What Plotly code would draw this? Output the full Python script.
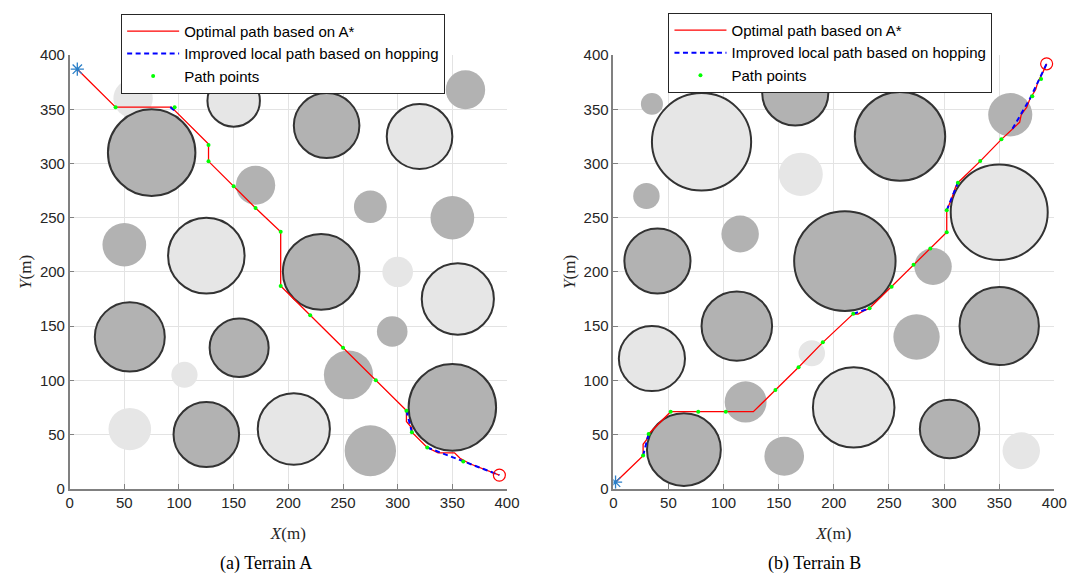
import plotly.graph_objects as go

# ---------------- Terrain A ----------------
# obstacle circles: centre x, centre y, radius, fill shade, outlined edge
a_cx = [58, 362, 170, 275, 350, 50, 300, 105, 295, 255, 55, 275,
        75, 150, 235, 320, 125, 230, 355, 55, 155, 125, 205, 350]
a_cy = [360, 368, 280, 260, 250, 225, 200, 105, 145, 105, 55, 35,
        310, 358, 335, 325, 215, 200, 175, 140, 130, 50, 55, 75]
a_r = [18, 18, 18, 15, 20, 20, 14, 12, 14, 22.5, 19.5, 23.5,
       40, 24, 30, 30, 35, 35, 33, 32, 27, 30, 33, 40]
a_shade = ["light", "dark", "dark", "dark", "dark", "dark", "light", "light", "dark", "dark", "light", "dark",
           "dark", "light", "dark", "light", "light", "dark", "light", "dark", "dark", "dark", "light", "dark"]
a_edge = [False] * 12 + [True] * 12

# A* optimal path
a_path_x = [7, 42, 93, 97, 127, 127, 150, 170, 193, 193, 220, 250, 280, 308, 308, 313, 313,
            327, 337, 352, 357, 361, 366, 393]
a_path_y = [387, 352, 352, 348, 318, 302, 279, 259, 237, 187, 160, 130, 100, 72, 62, 56, 52,
            38, 33, 33, 28, 26, 23, 12.5]
# improved local path (hopping)
a_hop_x = [92, 97, None, 308, 313, None, 327, 360, 393]
a_hop_y = [352, 348, None, 72, 52, None, 38, 25, 12.5]
# path points
a_pts_x = [42, 96, 127, 127, 150, 170, 193, 193, 220, 250, 280, 308, 313, 327, 360]
a_pts_y = [352, 352, 317, 302, 279, 259, 237, 187, 160, 130, 100, 72, 52, 38, 25]

# ---------------- Terrain B ----------------
b_cx = [35, 310, 360, 30, 170, 115, 290, 275, 180, 120, 155, 370,
        80, 165, 260, 40, 210, 350, 112, 350, 35, 218, 305, 64]
b_cy = [355, 382, 345, 270, 290, 235, 205, 140, 125, 80, 30, 35,
        320, 365, 325, 210, 210, 255, 150, 150, 120, 75, 55, 36]
b_r = [10, 17, 20, 12, 20, 17, 17, 21, 12, 19, 18, 17,
       45, 30, 41, 30, 46, 44, 32, 36, 30, 37, 27, 33.5]
b_shade = ["dark", "light", "dark", "dark", "light", "dark", "dark", "dark", "light", "dark", "dark", "light",
           "light", "dark", "dark", "dark", "dark", "light", "dark", "dark", "light", "light", "dark", "dark"]
b_edge = [False] * 12 + [True] * 12

b_path_x = [2, 27, 27, 30, 32, 52, 77, 102, 127, 147, 168, 190, 217.6, 222, 227, 232.4, 252.4,
            272.3, 287.5, 302.4, 302.4, 304, 307, 310.4, 312.5, 332.8, 352, 368.5, 370, 375,
            378, 383, 385, 390, 393]
b_path_y = [6, 30.5, 41, 45, 50.5, 71, 71, 71, 71, 91, 112, 135, 161.3, 161, 164, 166.4, 186.4,
            206.7, 221.6, 236.6, 256.9, 260.5, 268, 278.4, 282.3, 302.2, 322.3, 338, 345, 352,
            360, 368, 375, 385, 392]
b_hop_x = [27, 32, None, 217.6, 232.4, None, 302.4, 312.5, None, 362, 378, 393]
b_hop_y = [30.5, 50.5, None, 161.3, 166.4, None, 256.9, 282.3, None, 332, 360, 392]
b_pts_x = [27, 32, 52, 77, 102, 147, 168, 190, 217.6, 232.4, 252.4, 272.3, 287.5, 302.4,
           302.4, 312.5, 332.8, 352, 380, 388]
b_pts_y = [30.5, 50.5, 71, 71, 71, 91, 112, 135, 161.3, 166.4, 186.4, 206.7, 221.6, 236.6,
           256.9, 282.3, 302.2, 322.3, 362, 378]

start_a, goal_a = (7, 387), (393, 12.5)
start_b, goal_b = (2, 6), (393, 392)

LEGEND_NAMES = ["Optimal path based on A*", "Improved local path based on hopping", "Path points"]
SHADES = {"dark": "#b2b2b2", "light": "#e6e6e6"}
EDGE = "#333333"

fig = go.Figure()
shapes = []


def add_terrain(cx, cy, r, shade, edge, xa, ya):
    for x, y, rad, s, e in zip(cx, cy, r, shade, edge):
        shapes.append(dict(
            type="circle", xref=xa, yref=ya,
            x0=x - rad, x1=x + rad, y0=y - rad, y1=y + rad,
            fillcolor=SHADES[s],
            line=dict(color=EDGE if e else SHADES[s], width=2 if e else 0),
            layer="between"))


def add_paths(px, py, hx, hy, gx, gy, start, goal, xa, ya, legend):
    fig.add_trace(go.Scatter(x=px, y=py, mode="lines", name=LEGEND_NAMES[0],
                             line=dict(color="#ff0000", width=1.3),
                             xaxis=xa, yaxis=ya, legend=legend))
    fig.add_trace(go.Scatter(x=hx, y=hy, mode="lines", name=LEGEND_NAMES[1],
                             line=dict(color="#0000ff", width=2, dash="5px,3.5px"),
                             connectgaps=False, xaxis=xa, yaxis=ya, legend=legend))
    fig.add_trace(go.Scatter(x=gx, y=gy, mode="markers", name=LEGEND_NAMES[2],
                             marker=dict(color="#00ff00", size=4),
                             xaxis=xa, yaxis=ya, legend=legend))
    fig.add_trace(go.Scatter(x=[start[0]], y=[start[1]], mode="markers", showlegend=False,
                             marker=dict(symbol="asterisk-open", size=11, color="#2a7fc8",
                                         line=dict(color="#2a7fc8", width=1.3)),
                             xaxis=xa, yaxis=ya))
    fig.add_trace(go.Scatter(x=[goal[0]], y=[goal[1]], mode="markers", showlegend=False,
                             marker=dict(symbol="circle-open", size=12, color="#ff0000",
                                         line=dict(color="#ff0000", width=1.2)),
                             xaxis=xa, yaxis=ya))


add_terrain(a_cx, a_cy, a_r, a_shade, a_edge, "x", "y")
add_terrain(b_cx, b_cy, b_r, b_shade, b_edge, "x2", "y2")
add_paths(a_path_x, a_path_y, a_hop_x, a_hop_y, a_pts_x, a_pts_y, start_a, goal_a, "x", "y", "legend")
add_paths(b_path_x, b_path_y, b_hop_x, b_hop_y, b_pts_x, b_pts_y, start_b, goal_b, "x2", "y2", "legend2")

W, H = 1089, 586
tick_font = dict(family="Liberation Sans, Arial, sans-serif", size=15, color="#262626")
title_font = dict(family="Liberation Serif, Times New Roman, serif", size=17, color="#262626")
TICKS = [0, 50, 100, 150, 200, 250, 300, 350, 400]


def axis(domain, anchor, title, standoff):
    return dict(domain=domain, anchor=anchor, range=[0, 400], tickvals=TICKS,
                showgrid=True, gridcolor="#e3e3e3", gridwidth=1, zeroline=False,
                showline=True, linecolor="#808080", linewidth=1.5,
                ticks="inside", ticklen=5, tickcolor="#808080", tickwidth=1,
                tickfont=tick_font, title=dict(text=title, font=title_font, standoff=standoff),
                fixedrange=True)


YDOM = [1 - 494 / H, 1 - 47.5 / H]

legend_style = dict(bgcolor="white", bordercolor="#262626", borderwidth=1,
                    font=dict(family="Liberation Sans, Arial, sans-serif", size=15, color="#000000"),
                    xanchor="left", yanchor="top", tracegroupgap=0, itemwidth=52)

caption_font = dict(family="Liberation Serif, Times New Roman, serif", size=18, color="#000000")

fig.update_layout(
    width=W, height=H, margin=dict(l=0, r=0, t=0, b=0),
    paper_bgcolor="white", plot_bgcolor="white",
    xaxis=axis([66.7 / W, 511 / W], "y", "<i>X</i>(m)", 17),
    yaxis=axis(YDOM, "x", "<i>Y</i>(m)", 4),
    xaxis2=axis([619 / W, 1067 / W], "y2", "<i>X</i>(m)", 17),
    yaxis2=axis(YDOM, "x2", "<i>Y</i>(m)", 4),
    legend=dict(x=119 / W, y=1 - 5 / H, **legend_style),
    legend2=dict(x=675 / W, y=1 - 4 / H, **legend_style),
    shapes=shapes,
    annotations=[
        dict(text="(a) Terrain A", x=266 / W, y=1 - 571 / H, xref="paper", yref="paper",
             xanchor="center", yanchor="middle", showarrow=False, font=caption_font),
        dict(text="(b) Terrain B", x=823 / W, y=1 - 571 / H, xref="paper", yref="paper",
             xanchor="center", yanchor="middle", showarrow=False, font=caption_font),
    ],
    showlegend=True,
)

fig.write_html("out.html")
